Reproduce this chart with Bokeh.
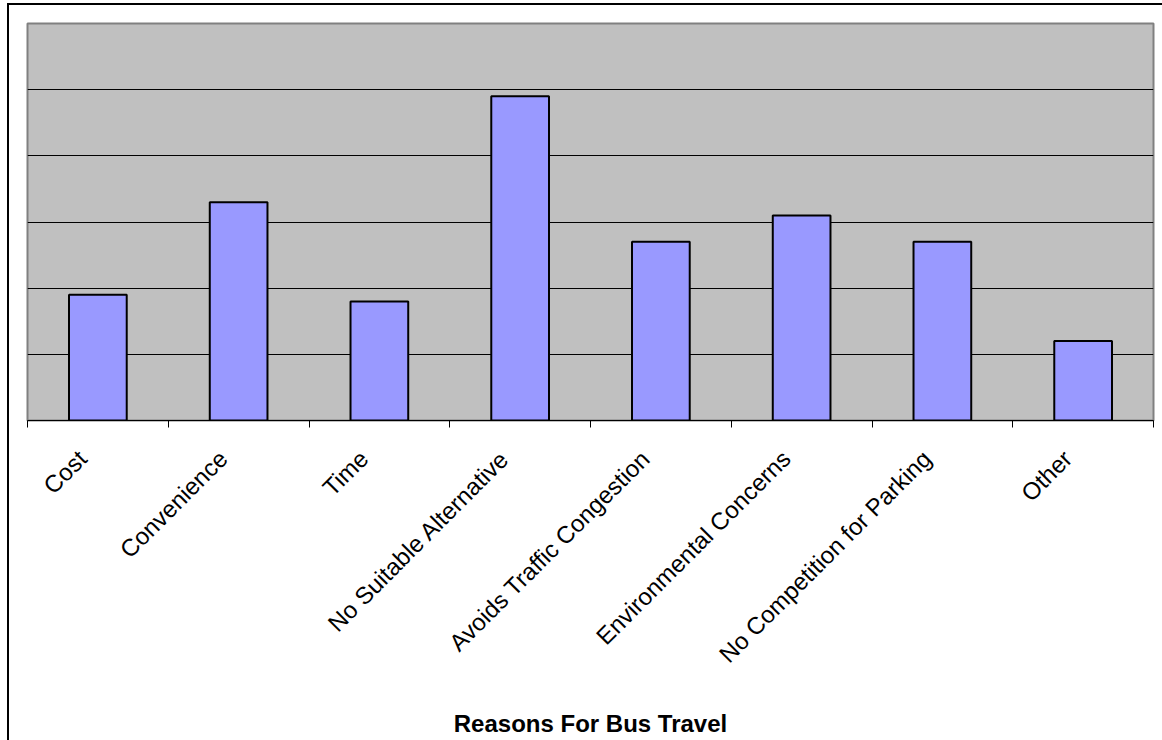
import math
from bokeh.plotting import figure
from bokeh.models import Range1d, FixedTicker, LinearAxis
from bokeh.embed import file_html
from bokeh.resources import INLINE

categories = ["Cost", "Convenience", "Time", "No Suitable Alternative",
              "Avoids Traffic Congestion", "Environmental Concerns",
              "No Competition for Parking", "Other"]
values = [19, 33, 18, 49, 27, 31, 27, 12]
y_ticks = [0, 10, 20, 30, 40, 50, 60]

n = len(categories)
centers = [i + 0.5 for i in range(n)]
bounds = list(range(n + 1))
label_shift = 0.11  # labels sit slightly left of the category centre
label_pos = [c - label_shift for c in centers]

p = figure(frame_width=1126, frame_height=397, output_backend="svg", toolbar_location=None,
           x_range=Range1d(0, n), y_range=Range1d(y_ticks[0], y_ticks[-1]),
           min_border_left=18, min_border_right=30, min_border_top=18, min_border_bottom=300,
           background_fill_color="#C0C0C0", border_fill_color="white",
           x_axis_type=None)
p.styles = {"margin-left": "7px", "margin-top": "3px",
            "border-left": "2px solid black", "border-top": "2px solid black"}
p.outline_line_color = "#808080"
p.outline_line_width = 2

p.vbar(x=centers, top=values, bottom=0, width=0.41,
       fill_color="#9999FF", line_color="black", line_width=2)

xaxis = LinearAxis(ticker=FixedTicker(ticks=label_pos, minor_ticks=bounds),
                   major_label_overrides={c: lab for c, lab in zip(label_pos, categories)})
xaxis.major_tick_line_color = None
xaxis.minor_tick_out = 7
xaxis.minor_tick_in = 0
xaxis.minor_tick_line_color = "black"
xaxis.axis_line_color = "black"
xaxis.major_label_orientation = math.pi / 4
xaxis.major_label_text_font = "Liberation Sans"
xaxis.major_label_text_font_size = "24px"
xaxis.major_label_text_color = "black"
xaxis.major_label_standoff = 27
xaxis.axis_label = "Reasons For Bus Travel"
xaxis.axis_label_text_font = "Liberation Sans"
xaxis.axis_label_text_font_style = "bold"
xaxis.axis_label_text_font_size = "24px"
xaxis.axis_label_text_color = "black"
xaxis.axis_label_standoff = 30
p.add_layout(xaxis, "below")

p.yaxis.visible = False
p.yaxis.ticker = FixedTicker(ticks=y_ticks)
p.ygrid.ticker = FixedTicker(ticks=y_ticks)
p.ygrid.grid_line_color = "black"
p.ygrid.grid_line_width = 1
p.xgrid.visible = False

open("out.html", "w").write(file_html(p, INLINE))
